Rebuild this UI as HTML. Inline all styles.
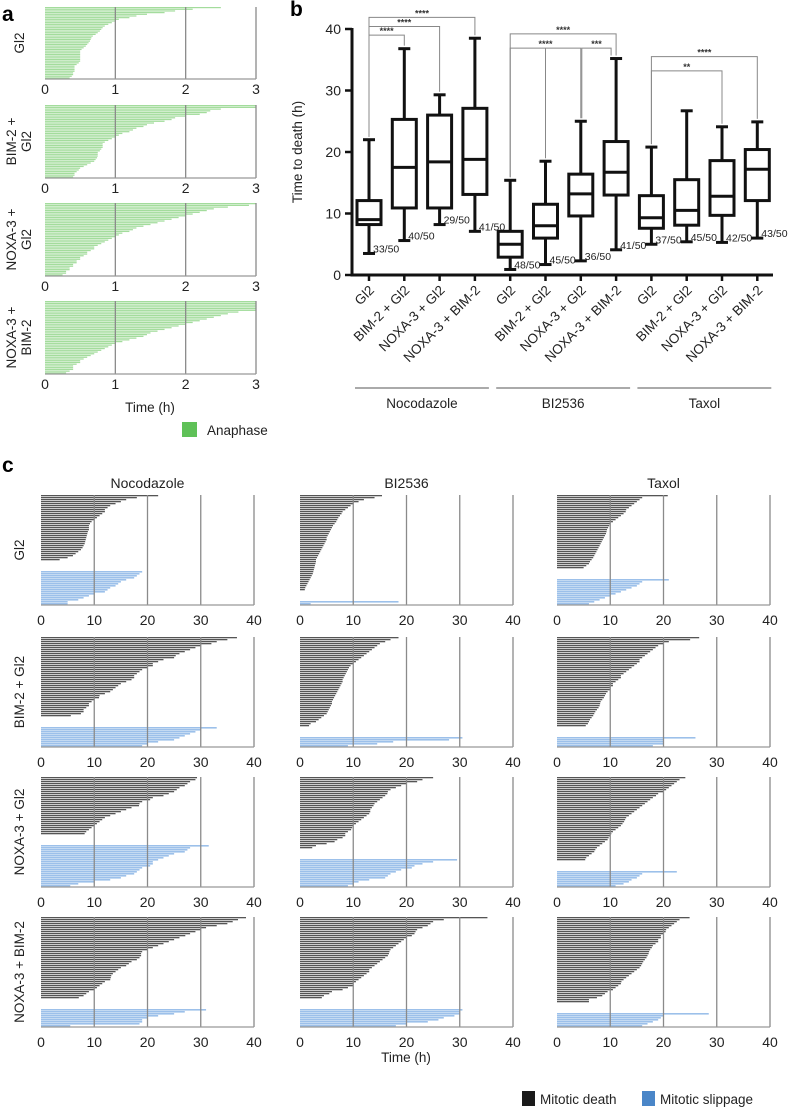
<!DOCTYPE html>
<html><head><meta charset="utf-8"><style>
html,body{margin:0;padding:0;background:#fff}
svg{display:block;font-family:"Liberation Sans",sans-serif}
</style></head><body>
<svg id="fig" width="788" height="1115" viewBox="0 0 788 1115" xmlns="http://www.w3.org/2000/svg">
<g id="root"></g>
</svg>
<script>
// ---------- Panel a data (hours to anaphase) ----------
const aLabels = [["Gl2"],["BIM-2 +","Gl2"],["NOXA-3 +","Gl2"],["NOXA-3 +","BIM-2"]];
const aTicks = [0,1,2,3];
const aGl2 = [2.5,2.1,1.85,1.7,1.45,1.3,1.2,1.05,1.0,0.95,0.9,0.85,0.82,0.8,0.78,0.75,0.72,0.68,0.66,0.65,0.64,0.62,0.6,0.58,0.55,0.52,0.5,0.5,0.5,0.5,0.5,0.5,0.5,0.48,0.45,0.42,0.42,0.42,0.42,0.4,0.4,0.38,0.35];
const aBimGl2 = [3,3,2.5,2.35,2.3,2.2,2.0,1.85,1.8,1.7,1.55,1.45,1.4,1.3,1.25,1.2,1.1,1.05,1.0,0.95,0.9,0.85,0.82,0.82,0.82,0.8,0.78,0.75,0.75,0.75,0.74,0.72,0.7,0.65,0.6,0.55,0.5,0.48,0.45,0.42,0.42,0.4];
const aNoxaGl2 = [3,2.9,2.6,2.4,2.3,2.2,2.1,2.0,1.9,1.8,1.7,1.6,1.5,1.4,1.3,1.25,1.2,1.1,1.05,1.0,0.95,0.9,0.85,0.8,0.75,0.7,0.7,0.65,0.6,0.6,0.55,0.5,0.5,0.45,0.45,0.4,0.4,0.35,0.35,0.3,0.3,0.25];
const aNoxaBim = [3,3,3,3,3,3,2.75,2.6,2.5,2.4,2.3,2.2,2.1,2.0,1.9,1.8,1.7,1.6,1.5,1.45,1.4,1.3,1.2,1.1,1.0,0.95,0.9,0.85,0.8,0.75,0.7,0.65,0.6,0.55,0.5,0.5,0.45,0.4,0.4,0.4,0.35,0.3];

// ---------- Panel b data ----------
const bCategories = ["Gl2","BIM-2 + Gl2","NOXA-3 + Gl2","NOXA-3 + BIM-2","Gl2","BIM-2 + Gl2","NOXA-3 + Gl2","NOXA-3 + BIM-2","Gl2","BIM-2 + Gl2","NOXA-3 + Gl2","NOXA-3 + BIM-2"];
const bGroups = ["Nocodazole","BI2536","Taxol"];
const bMin =    [3.5,5.6,8.2,7.1, 0.9,1.7,2.3,4.1, 5.0,5.4,5.3,6.0];
const bQ1 =     [8.2,10.9,10.9,13.1, 2.9,6.0,9.6,13.0, 7.6,8.1,9.7,12.1];
const bMedian = [9.0,17.5,18.4,18.8, 5.0,8.0,13.2,16.7, 9.3,10.5,12.8,17.2];
const bQ3 =     [12.1,25.3,26.0,27.1, 7.1,11.5,16.4,21.7, 12.9,15.5,18.6,20.4];
const bMax =    [22.0,36.8,29.3,38.5, 15.4,18.5,25.0,35.2, 20.8,26.7,24.1,24.9];
const bCounts = ["33/50","40/50","29/50","41/50","48/50","45/50","36/50","41/50","37/50","45/50","42/50","43/50"];
const bTicks = [0,10,20,30,40];
const bSigFrom = [0,0,0,4,4,6,8,8];
const bSigTo =   [1,2,3,7,6,7,10,11];
const bSigY =    [39.0,40.4,41.9,39.2,36.9,36.9,33.2,35.5];
const bSigStars = ["****","****","****","****","****","***","**","****"];

// ---------- Panel c data ----------
const cRowLabels = ["Gl2","BIM-2 + Gl2","NOXA-3 + Gl2","NOXA-3 + BIM-2"];
const cColLabels = ["Nocodazole","BI2536","Taxol"];
const cTicks = [0,10,20,30,40];
const death_noc_gl2 = [22,18,16,15,14,13,12.5,12,12,11.5,11,10.5,10,9.5,9.2,9,9,9,8.8,8.7,8.6,8.5,8.4,8.3,8.2,8,7.8,7.5,7,6.5,6,5,3.5];
const slip_noc_gl2 = [19,18.5,18,17.5,16,15,14.5,14,13,12.5,12,10,9,8,7,5,5];
const death_bi_gl2 = [15.4,14,12,11,10,9.5,9,8.5,8,7.8,7.5,7.2,7,6.8,6.5,6.2,6,5.8,5.6,5.4,5.2,5,5,4.8,4.6,4.4,4.2,4,3.8,3.6,3.4,3.2,3,3,2.9,2.8,2.7,2.6,2.5,2.4,2.2,2,1.8,1.6,1.4,1.2,1,0.9];
const slip_bi_gl2 = [18.5,2];
const death_tax_gl2 = [20.8,16,15.5,15,14.5,14,13.5,13,12.9,12.5,12,11.5,11,10.5,10,9.8,9.6,9.4,9.3,9.2,9,8.8,8.6,8.4,8.2,8,7.8,7.6,7.4,7.2,7,6.8,6.5,6.2,6,5.5,5];
const slip_tax_gl2 = [21,16,15.5,15,14,13,12,11,10,9,8,7,6];
const death_noc_bim = [36.8,35,33,32,30,29,28,27,26,25.3,25,23,22,21,21,20,19,18.5,18,17.5,17.5,17,16,15,14.5,14,13.5,13,12,11,10.9,10,9.5,9,9,8.5,8,8,7.5,5.6];
const slip_noc_bim = [33,30,29,28,27,26,25,22,20,19];
const death_bi_bim = [18.5,17,16,15,14.5,14,13.5,13,12.5,12,11.5,11,10.5,10,9.5,9.2,9,8.8,8.6,8.4,8.2,8,8,7.8,7.6,7.4,7.2,7,6.8,6.6,6.4,6.2,6,6,5.8,5.6,5.4,5.2,5,4.5,4,3.5,3,2,1.7];
const slip_bi_bim = [30.5,28,17.5,14.5,9];
const death_tax_bim = [26.7,25,21,20,19,18.5,18,17.5,17,16.5,16,15.5,15.5,15,14.5,14,13.5,13,12.5,12,12,11.5,11,10.5,10.5,10,10,9.5,9.2,9,8.8,8.5,8.2,8.1,8,7.8,7.5,7.2,7,6.8,6.5,6.2,6,5.8,5.4];
const slip_tax_bim = [26,20,20,20,18];
const death_noc_noxa = [29.3,29,28,27.5,27,26,25.5,25,24,23,21,20.5,19,18.5,18.4,17,16,15,14,13,12,11.5,11,10.5,10,9.5,9,8.5,8.2];
const slip_noc_noxa = [31.5,28,27.5,27,25,24,23,22,21,21,20.5,19,18.5,18,17.5,16,15,13,10,7,5.5];
const death_bi_noxa = [25,23,22,20,19,18,17,16.5,16.4,16,15.5,15,14.5,14,13.8,13.5,13.2,13.2,13,12.5,12,11.5,11,10.5,10,9.8,9.6,9,8.5,8.5,8,7,6.5,5,3,2.3];
const slip_bi_noxa = [29.5,25,23,21.5,21,19,18,17,16.5,16,13,11,10,9];
const death_tax_noxa = [24.1,23,22.5,22,21.5,21,20.5,20,19,18.6,18,17.5,17,16.5,16,15.5,15,14.5,14,13.5,13,12.8,12.6,12.3,12,11.5,11,10.5,10.2,10,9.7,9.5,9,8.5,8,7.5,7.2,7,6.5,6,5.5,5.3];
const slip_tax_noxa = [22.5,16,15.5,15,14,13.5,12.5,11];
const death_noc_nb = [38.5,37,36,35,33,31,30,29,28,27.1,26,25,24,23,22,21,20,19,18.8,18.8,18.5,18,17,16.5,16,15,14.5,14,13.5,13.2,13.1,13,12,11.5,11,10.5,10,9,8.5,8,7.1];
const slip_noc_nb = [31,27,25,22,20,19,19,18.5,5.5];
const death_bi_nb = [35.2,27,25,24.5,24,23,22,21.7,21.5,21,20,19.5,19,18.5,18,17.5,17,16.8,16.7,16.5,16,15.5,15,14.5,14,13.5,13,13,12.5,12,11.5,11,10.5,10,10,9,8,6,5.5,4.5,4.1];
const slip_bi_nb = [30.5,30,30,29,27,26,24,20,18];
const death_tax_nb = [24.9,23,22.5,22,21.5,21,20.5,20.4,20,19.5,19.5,19,19,18.5,18,17.8,17.5,17.3,17.2,17,16.8,16.5,16.2,16,15.8,15.5,15,14.5,14,13.5,13,12.5,12.1,12,11.5,11,10.5,9.5,9,8.5,7.5,6,6];
const slip_tax_nb = [28.5,20,19.5,19,18,17,16];

const NS = "http://www.w3.org/2000/svg";
const root = document.getElementById('root');
function mk(tag, attrs, parent, txt){
  const e = document.createElementNS(NS, tag);
  for (const k in attrs) e.setAttribute(k, attrs[k]);
  if (txt !== undefined) e.textContent = txt;
  (parent || root).appendChild(e);
  return e;
}
function grp(name, parent){
  const g = mk('g', {}, parent);
  
  
  return g;
}

const la = mk('text',{x:2,y:21,'font-size':21,'font-weight':'bold'},null,'a');


const lb = mk('text',{x:290,y:16,'font-size':21,'font-weight':'bold'},null,'b');


const lc = mk('text',{x:2,y:472,'font-size':21,'font-weight':'bold'},null,'c');



// ---------- Panel a ----------
const aData = [aGl2, aBimGl2, aNoxaGl2, aNoxaBim];
const aTop = [7,105,203,301];
const aBot = [79,178,276,374];
const aX0 = 45, aX1 = 256;
function ax(v){ return aX0 + v/3*(aX1-aX0); }
aData.forEach((vals, p) => {
  const g = grp('anaphase-panel-' + (p+1));
  const h = aBot[p] - aTop[p];
  const pitch = h / vals.length;
  vals.forEach((v, i) => {
    const r = mk('rect',{x:aX0, y:aTop[p]+i*pitch, width:ax(v)-aX0, height:pitch*0.72, fill:'#a3dc9c'}, g);
    
    
  });
  aTicks.forEach(t => {
    if (t > 0) {
      const l = mk('line',{x1:ax(t),x2:ax(t),y1:aTop[p],y2:aBot[p],stroke:'#8a8a8a','stroke-width':1.3}, g);
      
      
    }
    const tl = mk('text',{x:ax(t),y:aBot[p]+15,'font-size':14,'text-anchor':'middle',fill:'#222'}, g, String(t));
    
    
  });
  mk('line',{x1:aX0,x2:aX1,y1:aBot[p],y2:aBot[p],stroke:'#999','stroke-width':1.2}, g);
  const cy = (aTop[p]+aBot[p])/2;
  const lines = aLabels[p];
  const lab = mk('text',{transform:`translate(${lines.length>1?16:24},${cy}) rotate(-90)`,'font-size':13.5,'text-anchor':'middle',fill:'#222'}, g);
  
  
  lines.forEach((s, i) => {
    mk('tspan',{x:0, dy: i===0?0:15}, lab, s);
  });
});
const at = mk('text',{x:150,y:412,'font-size':13.5,'text-anchor':'middle',fill:'#222'},null,'Time (h)');


const lga = grp('legend-anaphase');
mk('rect',{x:182,y:422,width:15,height:15,fill:'#5fc158'}, lga);
mk('text',{x:207,y:435,'font-size':13.5,fill:'#222'}, lga, 'Anaphase');

// ---------- Panel b ----------
const bX0 = 352, bY0 = 275, bY40 = 29;
function by(v){ return bY0 - v/40*(bY0-bY40); }
const bCx = bCategories.map((c,i) => 369 + i*35.3);
const gb = grp('boxplot-panel');
const yaxis = mk('line',{x1:bX0,x2:bX0,y1:by(40)-1,y2:bY0+1.5,stroke:'#111','stroke-width':3}, gb);


const xaxis = mk('line',{x1:bX0-1.5,x2:773,y1:bY0,y2:bY0,stroke:'#111','stroke-width':3}, gb);


bTicks.forEach(t => {
  mk('line',{x1:bX0-7,x2:bX0,y1:by(t),y2:by(t),stroke:'#111','stroke-width':2.5}, gb);
  const tl = mk('text',{x:bX0-11,y:by(t)+5,'font-size':14,'text-anchor':'end',fill:'#222'}, gb, String(t));
  
  
});
const yt = mk('text',{transform:`translate(302,${by(20)}) rotate(-90)`,'font-size':13.5,'text-anchor':'middle',fill:'#222'}, gb, 'Time to death (h)');


bCategories.forEach((c, i) => {
  const x = bCx[i];
  const g = grp('box-' + (i+1), gb);
  const hw = 12, cw = 6;
  mk('line',{x1:x,x2:x,y1:by(bMax[i]),y2:by(bQ3[i]),stroke:'#111','stroke-width':3}, g);
  mk('line',{x1:x,x2:x,y1:by(bQ1[i]),y2:by(bMin[i]),stroke:'#111','stroke-width':3}, g);
  mk('line',{x1:x-cw,x2:x+cw,y1:by(bMax[i]),y2:by(bMax[i]),stroke:'#111','stroke-width':3}, g);
  mk('line',{x1:x-cw,x2:x+cw,y1:by(bMin[i]),y2:by(bMin[i]),stroke:'#111','stroke-width':3}, g);
  mk('rect',{x:x-hw,y:by(bQ3[i]),width:2*hw,height:by(bQ1[i])-by(bQ3[i]),fill:'#fff',stroke:'#111','stroke-width':3}, g);
  mk('line',{x1:x-hw,x2:x+hw,y1:by(bMedian[i]),y2:by(bMedian[i]),stroke:'#111','stroke-width':3}, g);
  const n = mk('text',{x:x+4,y:by(bMin[i])-1,'font-size':10.5,fill:'#222'}, g, bCounts[i]);
  
  
  mk('line',{x1:x,x2:x,y1:bY0,y2:bY0+6,stroke:'#111','stroke-width':2.5}, g);
  const cl = mk('text',{transform:`translate(${x+6},${bY0+16}) rotate(-45)`,'font-size':13.5,'text-anchor':'end',fill:'#222'}, g, c);
  
  
});
bGroups.forEach((gname, k) => {
  const x1 = bCx[k*4]-14, x2 = bCx[k*4+3]+14;
  const g = grp('group-' + gname.toLowerCase(), gb);
  mk('line',{x1:x1,x2:x2,y1:388,y2:388,stroke:'#555','stroke-width':1}, g);
  mk('text',{x:(x1+x2)/2,y:408,'font-size':13.5,'text-anchor':'middle',fill:'#222'}, g, gname);
});
bSigFrom.forEach((f, i) => {
  const t = bSigTo[i];
  const g = grp('significance-bracket', gb);
  const yy = by(bSigY[i]);
  const xf = bCx[f] + (i===5 ? 1 : 0), xt = bCx[t] - (i===5 ? 5 : 0);
  mk('polyline',{points:`${xf},${by(bMax[f])-3} ${xf},${yy} ${xt},${yy} ${xt},${by(bMax[t])-3}`,fill:'none',stroke:'#888','stroke-width':1}, g);
  mk('text',{x:(xf+xt)/2,y:yy-1,'font-size':9,'text-anchor':'middle',fill:'#333','font-weight':'bold'}, g, bSigStars[i]);
});
mk('line',{x1:bCx[5],x2:bCx[5],y1:by(36.9),y2:by(bMax[5])-3,stroke:'#888','stroke-width':1}, gb);

// ---------- Panel c ----------
const cData = [
  [[death_noc_gl2,slip_noc_gl2],[death_bi_gl2,slip_bi_gl2],[death_tax_gl2,slip_tax_gl2]],
  [[death_noc_bim,slip_noc_bim],[death_bi_bim,slip_bi_bim],[death_tax_bim,slip_tax_bim]],
  [[death_noc_noxa,slip_noc_noxa],[death_bi_noxa,slip_bi_noxa],[death_tax_noxa,slip_tax_noxa]],
  [[death_noc_nb,slip_noc_nb],[death_bi_nb,slip_bi_nb],[death_tax_nb,slip_tax_nb]]
];
const cX0 = [41,300,557], cW = 213;
const cTop = [495,637,777,917], cH = 110;
cColLabels.forEach((s, j) => {
  const t = mk('text',{x:cX0[j]+cW/2,y:488,'font-size':14,'text-anchor':'middle',fill:'#222'},null,s);
  
  
});
cData.forEach((row, r) => {
  const rl = mk('text',{transform:`translate(24,${cTop[r]+cH/2}) rotate(-90)`,'font-size':13.5,'text-anchor':'middle',fill:'#222'},null,cRowLabels[r]);
  
  
  row.forEach((pair, j) => {
    const g = grp('fate-panel-r' + (r+1) + '-c' + (j+1));
    const x0 = cX0[j];
    const cx = v => x0 + v/40*cW;
    const death = pair[0], slip = pair[1];
    const gap = 5;
    const nrows = death.length + slip.length + gap;
    const pitch = cH / nrows;
    death.forEach((v, i) => {
      const b = mk('rect',{x:x0,y:cTop[r]+i*pitch,width:cx(v)-x0,height:pitch*0.65,fill:'#555'}, g);
      
      
    });
    slip.forEach((v, i) => {
      const b = mk('rect',{x:x0,y:cTop[r]+(death.length+gap+i)*pitch,width:cx(v)-x0,height:pitch*0.8,fill:'#9cc0ea'}, g);
      
      
    });
    cTicks.forEach(t => {
      if (t > 0) {
        const l = mk('line',{x1:cx(t),x2:cx(t),y1:cTop[r],y2:cTop[r]+cH,stroke:'#8a8a8a','stroke-width':1.3}, g);
        
        
      }
      const tl = mk('text',{x:cx(t),y:cTop[r]+cH+20,'font-size':14,'text-anchor':'middle',fill:'#222'}, g, String(t));
      
      
    });
    mk('line',{x1:x0,x2:x0+cW,y1:cTop[r]+cH,y2:cTop[r]+cH,stroke:'#999','stroke-width':1.3}, g);
  });
});
const ct = mk('text',{x:406,y:1062,'font-size':13.5,'text-anchor':'middle',fill:'#222'},null,'Time (h)');


const lg1 = grp('legend-mitotic-death');
mk('rect',{x:522,y:1091,width:13,height:15,fill:'#1a1a1a'}, lg1);
mk('text',{x:540,y:1104,'font-size':13.5,fill:'#222'}, lg1, 'Mitotic death');
const lg2 = grp('legend-mitotic-slippage');
mk('rect',{x:642,y:1091,width:13,height:15,fill:'#4a86c8'}, lg2);
mk('text',{x:660,y:1104,'font-size':13.5,fill:'#222'}, lg2, 'Mitotic slippage');
</script>
</body></html>
